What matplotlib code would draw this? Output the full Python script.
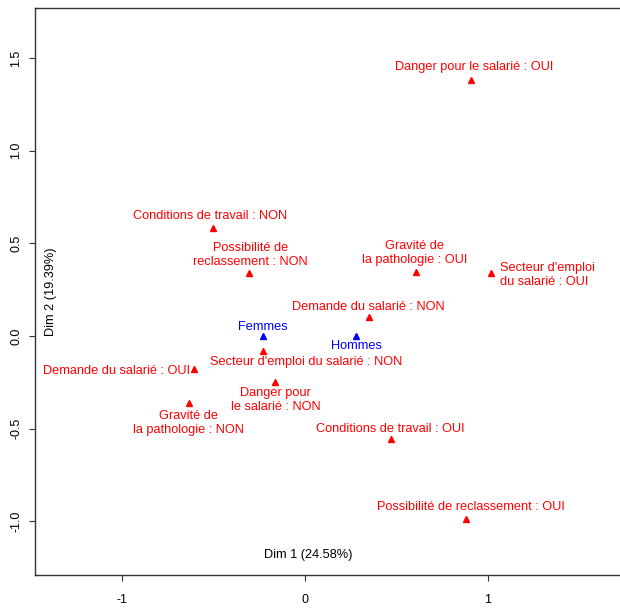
import matplotlib
matplotlib.use('Agg')
import matplotlib.pyplot as plt

matplotlib.rcParams['font.family'] = ['Liberation Sans', 'DejaVu Sans']

# MCA coordinates of the categories (Dim 1, Dim 2)
labels = ["Danger pour le salarié : OUI",
          "Conditions de travail : NON",
          "Possibilité de\nreclassement : NON",
          "Gravité de\nla pathologie : OUI",
          "Secteur d'emploi\ndu salarié : OUI",
          "Demande du salarié : NON",
          "Femmes",
          "Hommes",
          "Secteur d'emploi du salarié : NON",
          "Demande du salarié : OUI",
          "Danger pour\nle salarié : NON",
          "Gravité de\nla pathologie : NON",
          "Conditions de travail : OUI",
          "Possibilité de reclassement : OUI"]
dim1 = [0.907, -0.503, -0.306, 0.607, 1.016, 0.350, -0.230, 0.279,
        -0.230, -0.607, -0.164, -0.634, 0.470, 0.880]
dim2 = [1.38, 0.582, 0.341, 0.346, 0.341, 0.10, 0.0, 0.0,
        -0.08, -0.176, -0.247, -0.363, -0.555, -0.99]
group = ["var", "var", "var", "var", "var", "var", "sup", "sup",
         "var", "var", "var", "var", "var", "var"]

# label placement (pixel offsets from the point, alignment)
offsets = [(4, 13), (-3, 12), (2, 18), (-1, 19), (9, -2), (0, 10), (0, 9),
           (1, -10), (44, -11), (-4, -2), (1, -18), (0, -20), (0, 10), (5, 12)]
aligns = ["center", "center", "center", "center", "left", "center", "center",
          "center", "center", "right", "center", "center", "center", "center"]

colors = {"var": "red", "sup": "blue"}

fig = plt.figure(figsize=(6.2, 6.08), dpi=100)
ax = fig.add_axes([0.0565, 0.0543, 0.966, 0.9326])

for i in range(len(labels)):
    c = colors[group[i]]
    ax.plot(dim1[i], dim2[i], marker='^', color=c, markersize=5, linestyle='none')
    ax.annotate(labels[i], (dim1[i], dim2[i]), xytext=offsets[i],
                textcoords='offset pixels', ha=aligns[i], va='center',
                color=c, fontsize=9.2, linespacing=1.2)

ax.set_xlim(-1.474, 1.80)
ax.set_ylim(-1.29, 1.77)
ax.set_xticks([-1, 0, 1])
ax.set_xticklabels(["-1", "0", "1"])
ax.set_yticks([-1.0, -0.5, 0.0, 0.5, 1.0, 1.5])
ax.set_yticklabels(["-1.0", "-0.5", "0.0", "0.5", "1.0", "1.5"],
                   rotation=90, va='center')
ax.tick_params(direction='out', length=4, width=0.8, labelsize=9,
               color='#333333')
ax.tick_params(axis='x', pad=10)
ax.tick_params(axis='y', pad=5)
for s in ax.spines.values():
    s.set_linewidth(1.0)
    s.set_color('#333333')

ax.text(0.456, 0.035, "Dim 1 (24.58%)", transform=ax.transAxes,
        ha='center', va='center', fontsize=9.2)
ax.text(0.027, 0.50, "Dim 2 (19.39%)", transform=ax.transAxes,
        ha='center', va='center', fontsize=9.2, rotation=90)

fig.savefig("out.png", dpi=100)
